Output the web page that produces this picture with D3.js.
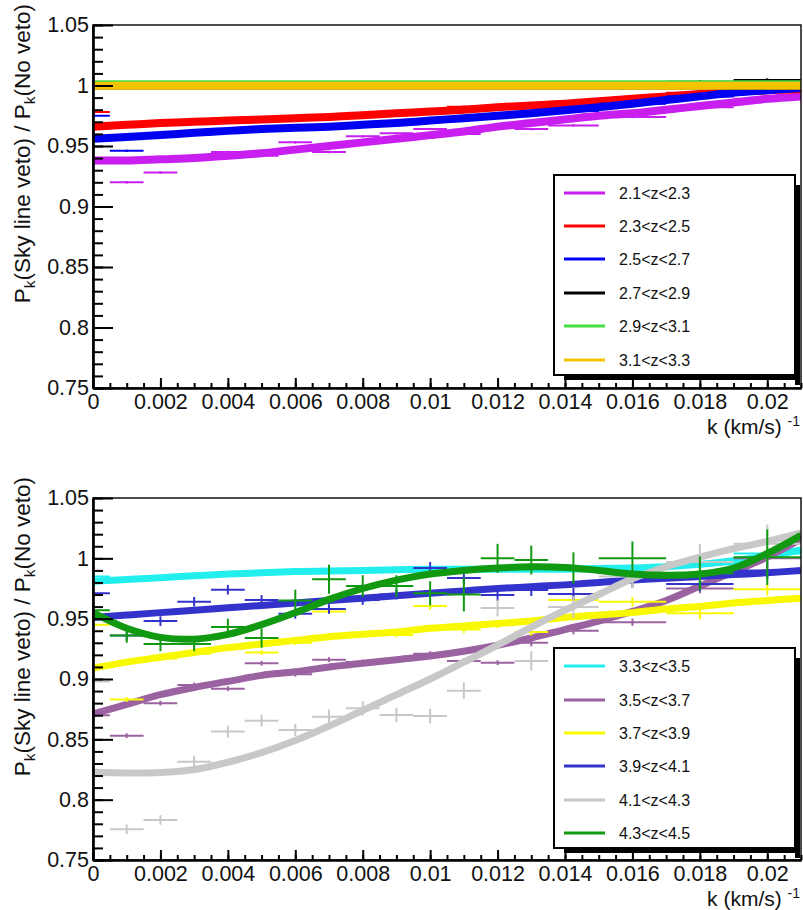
<!DOCTYPE html>
<html><head><meta charset="utf-8">
<script src="https://cdn.jsdelivr.net/npm/d3@7"></script>
<style>body{margin:0;background:#fff} text{font-family:"Liberation Sans",Arial,Helvetica,sans-serif}</style>
</head><body><svg id="c" width="803" height="910"></svg>
<script>
// ---------- data ----------
const kCenter = [0,0.001,0.002,0.003,0.004,0.005,0.006,0.007,0.008,0.009,0.010,0.011,0.012,0.013,0.01425,0.016,0.018,0.020];
const kLow    = [-0.0005,0.0005,0.0015,0.0025,0.0035,0.0045,0.0055,0.0065,0.0075,0.0085,0.0095,0.0105,0.0115,0.0125,0.0135,0.015,0.017,0.019];
const kHigh   = [0.0005,0.0015,0.0025,0.0035,0.0045,0.0055,0.0065,0.0075,0.0085,0.0095,0.0105,0.0115,0.0125,0.0135,0.015,0.017,0.019,0.021];
const fitK = [0,0.001,0.002,0.003,0.004,0.005,0.006,0.007,0.008,0.009,0.010,0.011,0.012,0.013,0.014,0.015,0.016,0.017,0.018,0.019,0.020,0.021];

const xTicks = [0,0.002,0.004,0.006,0.008,0.010,0.012,0.014,0.016,0.018,0.020];
const xTickLabels = ["0","0.002","0.004","0.006","0.008","0.01","0.012","0.014","0.016","0.018","0.02"];
const yTicks = [0.75,0.80,0.85,0.90,0.95,1.00,1.05];
const yTickLabels = ["0.75","0.8","0.85","0.9","0.95","1","1.05"];

// top panel
const topLabels = ["2.1<z<2.3","2.3<z<2.5","2.5<z<2.7","2.7<z<2.9","2.9<z<3.1","3.1<z<3.3"];
const topColors = ["#c81ef0","#ff0000","#0000f0","#000000","#44dd44","#f5c400"];
const ptsMagenta = [0.937,0.920,0.928,0.939,0.945,0.942,0.953,0.945,0.958,0.9605,0.964,0.960,0.965,0.964,0.967,0.974,0.982,0.989];
const ptsRed     = [0.978,0.966,0.968,0.969,0.973,0.972,0.973,0.974,0.976,0.977,0.978,0.9825,0.982,0.983,0.9866,0.989,0.994,0.997];
const ptsBlue    = [0.975,0.946,0.958,0.959,0.962,0.963,0.965,0.966,0.966,0.969,0.970,0.973,0.975,0.977,0.979,0.985,0.991,0.998];
const ptsBlack   = [1.000,1.000,1.000,1.000,1.000,1.000,1.000,1.000,1.000,1.000,1.000,1.000,1.000,1.000,1.000,1.000,1.003,1.0045];
const ptsGreen   = [1.001,1.001,1.001,1.001,1.001,1.001,1.001,1.001,1.001,1.001,1.001,1.001,1.001,1.001,1.001,1.001,1.001,1.001];
const ptsYellow  = [1.000,1.000,1.000,1.000,1.000,1.000,1.000,1.000,1.000,1.000,1.000,1.000,1.000,1.000,1.000,1.000,1.000,1.000];
const errTop     = [0.001,0.001,0.001,0.001,0.001,0.001,0.001,0.001,0.001,0.001,0.001,0.001,0.001,0.001,0.001,0.001,0.0015,0.0015];
const fitMagenta = [0.938,0.938,0.939,0.940,0.942,0.944,0.947,0.950,0.953,0.956,0.959,0.962,0.966,0.969,0.972,0.975,0.977,0.980,0.983,0.986,0.989,0.991];
const fitRed     = [0.966,0.9675,0.969,0.970,0.971,0.972,0.973,0.974,0.9755,0.977,0.9785,0.980,0.982,0.9835,0.985,0.987,0.989,0.991,0.993,0.995,0.996,0.997];
const fitBlue    = [0.956,0.9575,0.959,0.961,0.9625,0.964,0.965,0.966,0.9675,0.969,0.971,0.973,0.975,0.977,0.9795,0.982,0.985,0.988,0.991,0.994,0.996,0.998];
const fitBlack   = [1,1,1,1,1,1,1,1,1,1,1,1,1,1,1,1,1,1,1,1,1,1];
const fitGreen   = [1.001,1.001,1.001,1.001,1.001,1.001,1.001,1.001,1.001,1.001,1.001,1.001,1.001,1.001,1.001,1.001,1.001,1.001,1.001,1.001,1.001,1.001];
const fitYellow  = [0.9998,0.9998,0.9998,0.9998,0.9998,0.9998,0.9998,0.9998,0.9998,0.9998,0.9998,0.9998,0.9998,0.9998,0.9998,0.9998,0.9998,0.9998,0.9998,0.9998,0.9998,0.9998];

// bottom panel
const botLabels = ["3.3<z<3.5","3.5<z<3.7","3.7<z<3.9","3.9<z<4.1","4.1<z<4.3","4.3<z<4.5"];
const botColors = ["#22eeee","#9a62a0","#f8f800","#3333cc","#c8c8c8","#119911"];
const ptsCyan    = [0.985,0.983,0.984,0.986,0.987,0.988,0.989,0.989,0.990,0.990,0.991,0.991,0.991,0.991,0.991,0.992,0.995,1.004];
const ptsPurple  = [0.870,0.853,0.880,0.895,0.892,0.913,0.904,0.916,0.914,0.916,0.921,0.915,0.9135,0.930,0.940,0.947,0.975,1.000];
const ptsYellow2 = [0.945,0.883,0.917,0.921,0.925,0.922,0.930,0.956,0.937,0.9365,0.9605,0.941,0.945,0.939,0.9655,0.964,0.9544,0.9743];
const ptsBlue2   = [0.971,0.936,0.948,0.964,0.974,0.9655,0.954,0.958,0.9655,0.970,0.992,0.9837,0.9696,0.9738,0.9704,0.982,0.9787,0.990];
const ptsGray    = [0.898,0.7755,0.7832,0.8315,0.8564,0.8655,0.8577,0.8688,0.8757,0.8702,0.8693,0.8903,0.9588,0.9150,0.9597,0.985,0.997,1.012];
const ptsGreen2  = [0.957,0.936,0.929,0.929,0.943,0.934,0.965,0.9826,0.977,0.977,0.971,0.970,1.000,0.9986,0.992,1.000,0.9876,1.001];
const errCyan    = [0.002,0.002,0.002,0.002,0.002,0.002,0.002,0.002,0.002,0.002,0.002,0.002,0.002,0.002,0.002,0.003,0.003,0.003];
const errPurple  = [0.002,0.002,0.002,0.002,0.002,0.002,0.002,0.002,0.002,0.002,0.002,0.002,0.002,0.003,0.003,0.003,0.004,0.004];
const errYellow2 = [0.002,0.002,0.002,0.002,0.002,0.002,0.002,0.002,0.002,0.002,0.003,0.003,0.003,0.003,0.004,0.004,0.005,0.005];
const errBlue2   = [0.003,0.004,0.004,0.004,0.004,0.004,0.004,0.004,0.004,0.004,0.005,0.005,0.005,0.005,0.005,0.006,0.006,0.007];
const errGray    = [0.004,0.004,0.004,0.005,0.005,0.005,0.005,0.006,0.006,0.006,0.006,0.007,0.007,0.008,0.009,0.010,0.015,0.016];
const errGreen2  = [0.006,0.006,0.006,0.006,0.007,0.008,0.009,0.012,0.009,0.009,0.010,0.014,0.012,0.012,0.013,0.014,0.014,0.023];
const fitCyan    = [0.981,0.9825,0.984,0.9855,0.987,0.988,0.989,0.9895,0.990,0.9905,0.991,0.991,0.991,0.991,0.991,0.9915,0.992,0.993,0.995,0.998,1.002,1.007];
const fitPurple  = [0.871,0.879,0.887,0.893,0.898,0.903,0.906,0.910,0.913,0.916,0.919,0.923,0.928,0.934,0.941,0.948,0.956,0.965,0.977,0.989,1.001,1.016];
const fitYellow2 = [0.909,0.914,0.918,0.922,0.926,0.929,0.932,0.935,0.937,0.939,0.942,0.944,0.946,0.948,0.951,0.953,0.955,0.958,0.960,0.963,0.965,0.967];
const fitBlue2   = [0.951,0.953,0.955,0.957,0.959,0.961,0.963,0.965,0.967,0.969,0.971,0.973,0.975,0.9765,0.978,0.980,0.982,0.9835,0.985,0.9865,0.988,0.990];
const fitGray    = [0.823,0.8222,0.8225,0.825,0.831,0.839,0.849,0.861,0.874,0.887,0.900,0.914,0.928,0.943,0.957,0.970,0.983,0.993,1.001,1.008,1.014,1.021];
const fitGreen2  = [0.955,0.942,0.9345,0.933,0.937,0.945,0.955,0.966,0.975,0.982,0.987,0.990,0.992,0.993,0.9925,0.990,0.987,0.986,0.987,0.992,1.004,1.019];

// ---------- drawing ----------
const svg = d3.select("#c");
const L = 93, R = 801;
const x = d3.scaleLinear().domain([0, 0.021]).range([L, R]);

function panel(id, top, bottom, series, legend) {
  const y = d3.scaleLinear().domain([0.75, 1.05]).range([bottom, top]);
  const g = svg.append("g");
  g.append("clipPath").attr("id", "clip" + id).append("rect")
    .attr("x", L).attr("y", top).attr("width", R - L).attr("height", bottom - top);
  const data = g.append("g").attr("clip-path", `url(#clip${id})`);
  const line = d3.line().x(d => x(d[0])).y(d => y(d[1])).curve(d3.curveCatmullRom.alpha(0.5));
  series.forEach(s => {
    const sg = data.append("g");
    s.pts.forEach((v, i) => {
      sg.append("line").attr("x1", x(kLow[i])).attr("x2", x(kHigh[i]))
        .attr("y1", y(v)).attr("y2", y(v)).attr("stroke", s.color).attr("stroke-width", s.ew);
      sg.append("line").attr("x1", x(kCenter[i])).attr("x2", x(kCenter[i]))
        .attr("y1", y(v - s.err[i])).attr("y2", y(v + s.err[i])).attr("stroke", s.color).attr("stroke-width", s.ew);
    });
    sg.append("path").datum(fitK.map((k, i) => [k, s.fit[i]]))
      .attr("d", line).attr("fill", "none").attr("stroke", s.color)
      .attr("stroke-width", s.fw).attr("stroke-linejoin", "round");
  });

  g.append("rect").attr("x", L).attr("y", top).attr("width", R - L).attr("height", bottom - top)
    .attr("fill", "none").attr("stroke", "#111").attr("stroke-width", 1.5);

  const yMinor = d3.axisLeft(y).tickValues(d3.range(75, 106).map(v => v / 100)).tickFormat("").tickSizeInner(-10).tickSizeOuter(0);
  const yMajor = d3.axisLeft(y).tickValues(yTicks).tickFormat((d, i) => yTickLabels[i]).tickSizeInner(-20).tickSizeOuter(0).tickPadding(4);
  const xMinor = d3.axisBottom(x).tickValues(d3.range(0, 43).map(i => i * 0.0005)).tickFormat("").tickSizeInner(-5).tickSizeOuter(0);
  const xMajor = d3.axisBottom(x).tickValues(xTicks).tickFormat((d, i) => xTickLabels[i]).tickSizeInner(-10).tickSizeOuter(0).tickPadding(6);
  [yMinor, yMajor].forEach(a => g.append("g").attr("transform", `translate(${L},0)`).call(a));
  [xMinor, xMajor].forEach(a => g.append("g").attr("transform", `translate(0,${bottom})`).call(a));
  g.selectAll(".domain").attr("stroke", "#000").attr("stroke-width", 2.2);
  g.selectAll(".tick line").attr("stroke", "#000").attr("stroke-width", 2);
  g.selectAll(".tick text").attr("font-size", 21.5).attr("fill", "#111")
    .attr("font-family", '"Liberation Sans",Arial,sans-serif');

  const yt = g.append("text").attr("transform", `translate(30,${top - 21}) rotate(-90)`)
    .attr("text-anchor", "end").attr("font-size", 22.5).attr("fill", "#111");
  yt.append("tspan").text("P");
  yt.append("tspan").attr("font-size", 15.5).attr("dy", 5).text("k");
  yt.append("tspan").attr("dy", -5).text("(Sky line veto) / P");
  yt.append("tspan").attr("font-size", 15.5).attr("dy", 5).text("k");
  yt.append("tspan").attr("dy", -5).text("(No veto)");

  const xt = g.append("text").attr("x", 800).attr("y", bottom + 46)
    .attr("text-anchor", "end").attr("font-size", 21).attr("fill", "#111");
  xt.append("tspan").text("k (km/s) ");
  xt.append("tspan").attr("font-size", 14).attr("dy", -8).text("-1");

  const lg = g.append("g");
  lg.append("rect").attr("x", legend.x1).attr("y", legend.y0 + 10).attr("width", 5).attr("height", legend.y1 - legend.y0).attr("fill", "#000");
  lg.append("rect").attr("x", legend.x0 + 10).attr("y", legend.y1).attr("width", legend.x1 - legend.x0 - 5).attr("height", 5).attr("fill", "#000");
  lg.append("rect").attr("x", legend.x0).attr("y", legend.y0).attr("width", legend.x1 - legend.x0).attr("height", legend.y1 - legend.y0)
    .attr("fill", "#fff").attr("stroke", "#000").attr("stroke-width", 2);
  series.forEach((s, i) => {
    const yy = legend.rows[i];
    lg.append("line").attr("x1", 564).attr("x2", 605).attr("y1", yy).attr("y2", yy)
      .attr("stroke", s.color).attr("stroke-width", 3);
    lg.append("text").attr("x", 619).attr("y", yy).attr("dy", "0.36em")
      .attr("font-size", 16).attr("fill", "#111").text(s.label);
  });
}

const topSeries = [
  {pts: ptsMagenta, err: errTop, fit: fitMagenta},
  {pts: ptsRed, err: errTop, fit: fitRed},
  {pts: ptsBlue, err: errTop, fit: fitBlue},
  {pts: ptsBlack, err: errTop, fit: fitBlack},
  {pts: ptsGreen, err: errTop, fit: fitGreen},
  {pts: ptsYellow, err: errTop, fit: fitYellow}
].map((s, i) => Object.assign(s, {label: topLabels[i], color: topColors[i], ew: 2, fw: 8}));

const botSeries = [
  {pts: ptsCyan, err: errCyan, fit: fitCyan},
  {pts: ptsPurple, err: errPurple, fit: fitPurple},
  {pts: ptsYellow2, err: errYellow2, fit: fitYellow2},
  {pts: ptsBlue2, err: errBlue2, fit: fitBlue2},
  {pts: ptsGray, err: errGray, fit: fitGray},
  {pts: ptsGreen2, err: errGreen2, fit: fitGreen2}
].map((s, i) => Object.assign(s, {label: botLabels[i], color: botColors[i], ew: 2, fw: 7}));

panel("t", 25, 388, topSeries, {x0: 554, x1: 795, y0: 175, y1: 375, rows: [193, 226, 259, 293, 326, 360]});
panel("b", 498, 860, botSeries, {x0: 554, x1: 795, y0: 648, y1: 848, rows: [666, 700, 733, 766, 800, 833]});
</script></body></html>
